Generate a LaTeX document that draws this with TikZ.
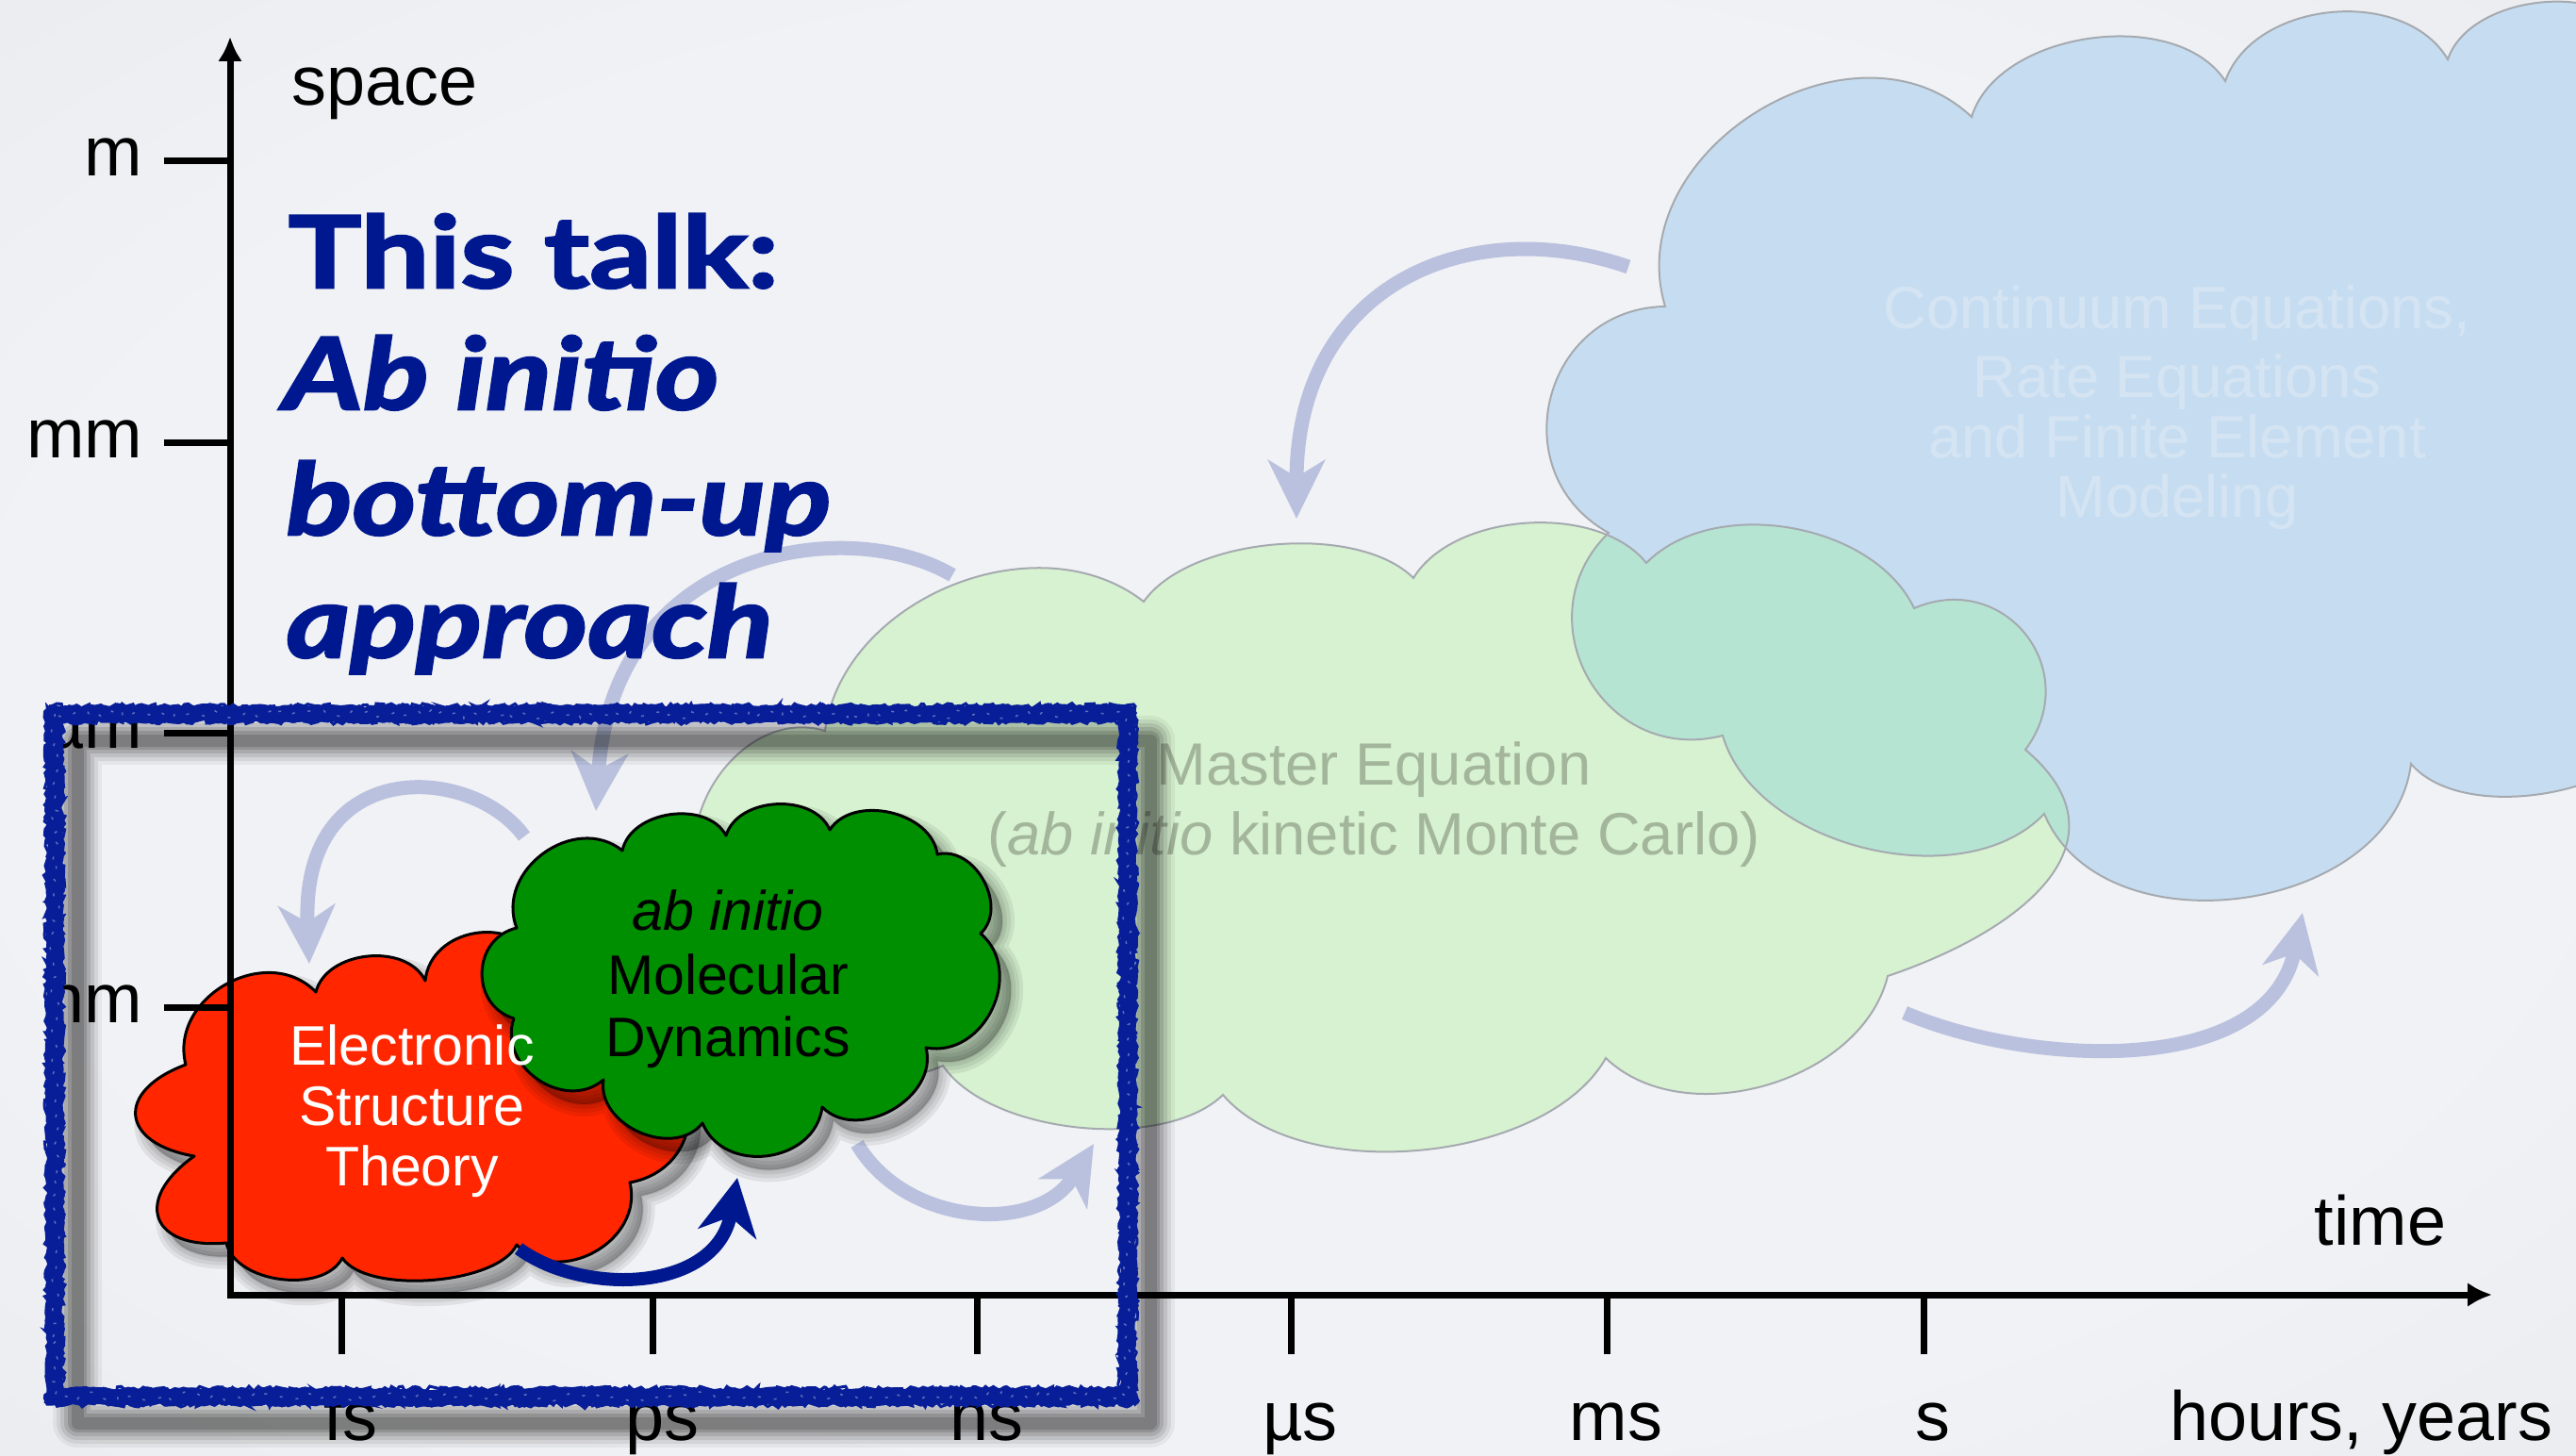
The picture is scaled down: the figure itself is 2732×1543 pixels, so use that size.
\documentclass[tikz,border=0pt]{standalone}
\usepackage{fontspec}
\setmainfont{Liberation Sans}
\newfontfamily\talkfont{Lato}[FakeStretch=1.23,BoldFeatures={FakeBold=2.5},BoldItalicFeatures={FakeBold=2.5}]
\usetikzlibrary{arrows.meta,decorations.pathmorphing}

\definecolor{bgin}{RGB}{241,242,245}
\definecolor{bgout}{RGB}{214,218,224}
\definecolor{talkblue}{RGB}{0,24,143}
\definecolor{frameblue}{RGB}{8,30,152}
\definecolor{faintarrow}{RGB}{186,193,222}
\definecolor{contfill}{RGB}{198,221,241}
\definecolor{context}{RGB}{213,228,243}
\definecolor{mefill}{RGB}{215,242,208}
\definecolor{overlapfill}{RGB}{181,228,210}
\definecolor{metext}{RGB}{163,182,156}
\definecolor{cloudline}{RGB}{165,170,176}
\definecolor{esred}{RGB}{255,38,0}
\definecolor{mdgreen}{RGB}{0,143,0}

\pgfdeclareradialshading{vignette}{\pgfpoint{0bp}{0bp}}{%
  color(0bp)=(bgin); color(25bp)=(bgin); color(72bp)=(bgout)}

% cloud outlines (clockwise on the page)
\newcommand\ContCloud{(1766,325) to[bend left=75,looseness=1.15] (2091,124)
  to[bend left=65,looseness=0.9] (2360,86) to[bend left=65,looseness=0.98] (2596,63)
  to[bend left=65,looseness=0.9] (2800,40) -- (2860,400) -- (2830,760)
  to[bend left=60,looseness=0.8] (2557,810) to[bend left=75,looseness=1.05] (2168,863)
  to[bend left=60,looseness=0.9] (1827,780) to[bend left=75,looseness=1.35] (1706,565)
  to[bend left=75,looseness=1.35] (1766,325) -- cycle}
\newcommand\MECloud{(875,775) to[bend left=60,looseness=1.0] (1213,638)
  to[bend left=50,looseness=0.75] (1499,613) to[bend left=55,looseness=0.85] (1746,597)
  to[bend left=55,looseness=0.9] (2030,645) to[bend left=75,looseness=1.4] (2148,795)
  .. controls (2261,890) and (2150,985) .. (2002,1035)
  to[bend left=60,looseness=0.95] (1703,1122) to[bend left=55,looseness=0.8] (1297,1161)
  to[bend left=50,looseness=0.75] (1000,1130) to[bend left=60,looseness=1.0] (760,960)
  to[bend left=75,looseness=1.15] (875,775) -- cycle}
\newcommand\MDCloud{(548,984) to[bend left=75,looseness=1.2] (660,902)
  to[bend left=70,looseness=1.0] (770,886) to[bend left=70,looseness=1.0] (880,880)
  to[bend left=70,looseness=1.0] (994,906) to[bend left=75,looseness=1.1] (1040,990)
  to[bend left=75,looseness=1.2] (982,1111) to[bend left=75,looseness=1.1] (872,1174)
  to[bend left=75,looseness=1.2] (745,1191) to[bend left=75,looseness=1.1] (640,1145)
  to[bend left=75,looseness=1.2] (545,1080) to[bend left=75,looseness=1.3] (548,984) -- cycle}
\newcommand\ESCloud{(197,1129) to[bend left=75,looseness=1.2] (335,1052)
  to[bend left=70,looseness=1.0] (451,1040) to[bend left=75,looseness=1.2] (570,1020)
  to[bend left=75,looseness=1.2] (680,1110) to[bend left=75,looseness=1.4] (668,1254)
  to[bend left=75,looseness=1.2] (548,1320) to[bend left=60,looseness=0.65] (363,1334)
  to[bend left=70,looseness=0.9] (240,1318) to[bend left=75,looseness=2.1] (206,1226)
  to[bend left=75,looseness=2.1] (197,1129) -- cycle}

\tikzset{
  axisline/.style={line width=0.7mm, line join=miter},
  axtick/.style={line width=0.7mm},
  axlabel/.style={inner sep=0pt, font=\fontsize{21}{25}\selectfont},
  talkline/.style={inner sep=0pt, text=talkblue, font=\talkfont\bfseries\fontsize{30}{36}\selectfont},
  talkit/.style={inner sep=0pt, text=talkblue, font=\talkfont\bfseries\itshape\fontsize{30}{36}\selectfont},
  bigtext/.style={inner sep=0pt, font=\fontsize{18}{22}\selectfont},
  cloudtext/.style={inner sep=0pt, font=\fontsize{16.8}{20}\selectfont},
  bigcloud/.style={draw=cloudline, line width=0.2mm},
  smallcloud/.style={draw=black, line width=0.3mm, line join=round},
  cloudshadow/.style={black, fill opacity=0.07, draw opacity=0.07, line join=round, shift={(12,14)}},
  faint/.style={draw=faintarrow, line width=1.5mm, -{Stealth[length=6.2mm,width=6mm,inset=1.8mm]}},
  boldarrow/.style={draw=talkblue, line width=1.4mm, -{Stealth[length=6mm,width=6.2mm,inset=1.8mm]}},
  framestroke/.style={frameblue, decorate, decoration={random steps, segment length=0.5mm, amplitude=0.2mm}},
  frameedge/.style={frameblue, line width=0.3mm, decorate, decoration={random steps, segment length=0.4mm, amplitude=0.3mm}},
}

\begin{document}
\begin{tikzpicture}[x=0.1mm, y=-0.1mm]
\useasboundingbox (0,0) rectangle (2732,1543);
\clip (0,0) rectangle (2732,1543);
\shade[shading=vignette] (0,0) rectangle (2732,1543);

% large pale clouds and their overlap
\fill[contfill] \ContCloud;
\fill[mefill] \MECloud;
\begin{scope}
  \clip \MECloud;
  \fill[overlapfill] \ContCloud;
\end{scope}
\draw[bigcloud] \ContCloud;
\draw[bigcloud] \MECloud;

\node[bigtext, text=context, anchor=base] (ct1) at (2309,348) {Continuum Equations,};
\node[bigtext, text=context, anchor=base] (ct2) at (2309,421) {Rate Equations};
\node[bigtext, text=context, anchor=base] (ct3) at (2309,485) {and Finite Element};
\node[bigtext, text=context, anchor=base] (ct4) at (2309,548) {Modeling};

\node[bigtext, text=metext, anchor=base] (me1) at (1457,832) {Master Equation};
\node[bigtext, text=metext, anchor=base] (me2) at (1457,906) {(\textit{ab initio} kinetic Monte Carlo)};

% pale arrows between the scales
\coordinate (a1s) at (1727,283);  \coordinate (a1e) at (1375,550);
\coordinate (a2s) at (1010,610);  \coordinate (a2e) at (632,860);
\coordinate (a3s) at (556,887);   \coordinate (a3e) at (328,1022);
\coordinate (a5s) at (909,1213);  \coordinate (a5e) at (1160,1213);
\coordinate (a6s) at (2020,1074); \coordinate (a6e) at (2442,968);
\draw[faint] (a1s) .. controls (1560,225) and (1375,300) .. (a1e);
\draw[faint] (a2s) .. controls (900,545) and (650,580) .. (a2e);
\draw[faint] (a3s) .. controls (500,810) and (318,800) .. (a3e);
\draw[faint] (a5s) .. controls (960,1300) and (1100,1310) .. (a5e);
\draw[faint] (a6s) .. controls (2150,1130) and (2405,1145) .. (a6e);

% title
\node[talkline, anchor=base west] (talk1) at (305,305) {This talk:};
\node[talkit, anchor=base west] (talk2) at (300,434) {Ab initio};
\node[talkit, anchor=base west] (talk3) at (303,567) {bottom-up};
\node[talkit, anchor=base west] (talk4) at (303,697) {approach};

% electronic structure and molecular dynamics clouds
\foreach \w in {2.6mm,1.8mm,1mm,0.3mm}
  \filldraw[cloudshadow, line width=\w] \ESCloud;
\filldraw[smallcloud, fill=esred] \ESCloud;
\foreach \w in {2.6mm,1.8mm,1mm,0.3mm}
  \filldraw[cloudshadow, line width=\w] \MDCloud;
\filldraw[smallcloud, fill=mdgreen] \MDCloud;

% axes
\coordinate (ytip) at (244,39);
\coordinate (origin) at (244,1373);
\coordinate (xtip) at (2643,1373);
\draw[axisline, {Latex[length=2.6mm,width=2.6mm]}-{Latex[length=2.6mm,width=2.6mm]}] (ytip) -- (origin) -- (xtip);
\foreach \y/\n [count=\i] in {171/m,469/mm,777/µm,1068/nm} {
  \draw[axtick] (174,\y) -- (244,\y);
  \node[axlabel, anchor=base east] (ylab\i) at (152,\y+16) {\n};
}
\foreach \x/\n [count=\i] in {362/fs,692/ps,1036/ns,1369/µs,1704/ms,2040/s} {
  \draw[axtick] (\x,1373) -- (\x,1436);
  \node[axlabel, anchor=base] (xlab\i) at (\x+10,1527) {\n};
}
\node[axlabel, anchor=base east] (xlab7) at (2708,1527) {hours, years};
\node[axlabel, anchor=base west] (spacelab) at (309,112) {space};
\node[axlabel, anchor=base west] (timelab) at (2454,1320) {time};

% cloud labels
\node[cloudtext, text=white, anchor=base] (es1) at (437,1129) {Electronic};
\node[cloudtext, text=white, anchor=base] (es2) at (437,1193) {Structure};
\node[cloudtext, text=white, anchor=base] (es3) at (437,1257) {Theory};
\node[cloudtext, anchor=base] (md1) at (772,986) {\textit{ab initio}};
\node[cloudtext, anchor=base] (md2) at (772,1054) {Molecular};
\node[cloudtext, anchor=base] (md3) at (772,1120) {Dynamics};

% bottom-up step
\coordinate (esout) at (550,1324);
\coordinate (mdin) at (782,1249);
\draw[boldarrow] (esout) .. controls (620,1375) and (760,1370) .. (mdin);

% hand-drawn frame with its soft shadow
\coordinate (frameNW) at (58,757);
\coordinate (frameSE) at (1196,1481);
\foreach \w/\o in {5.2mm/0.05,4.4mm/0.07,3.6mm/0.09,2.8mm/0.11,2mm/0.14,1.3mm/0.14}
  \draw[black, opacity=\o, line width=\w, line join=round]
    ([xshift=2.4mm,yshift=-2.8mm]frameNW) rectangle ([xshift=2.4mm,yshift=-2.8mm]frameSE);
\draw[framestroke, line width=1.8mm] (frameNW) rectangle (frameSE);
\draw[frameedge] (50,749) rectangle (1204,1489);
\draw[frameedge] (66,765) rectangle (1188,1473);
\draw[white, opacity=0.35, line width=0.15mm, dash pattern=on 0.3mm off 1.4mm,
      decorate, decoration={random steps, segment length=0.7mm, amplitude=0.5mm}]
      (frameNW) rectangle (frameSE);
\end{tikzpicture}
\end{document}
